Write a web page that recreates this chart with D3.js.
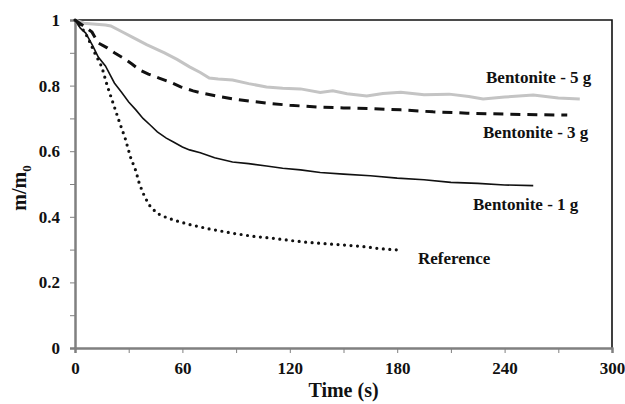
<!DOCTYPE html>
<html>
<head>
<meta charset="utf-8">
<script src="https://cdn.jsdelivr.net/npm/d3@7"></script>
<style>
  body { margin: 0; background: #fff; }
  svg text { font-family: "Liberation Serif", "Times New Roman", serif; font-weight: bold; fill: #111; }
</style>
</head>
<body>
<svg id="chart" width="625" height="404"></svg>
<script>
// data
var refTime = [0, 4, 7, 11, 15, 18, 22, 25, 28, 31, 34, 36, 39, 42, 46, 51, 57, 65, 75, 88, 100, 110, 120, 130, 140, 150, 160, 170, 180];
var refValue = [1, 0.975, 0.948, 0.9, 0.857, 0.8, 0.735, 0.686, 0.64, 0.582, 0.54, 0.5, 0.46, 0.432, 0.41, 0.398, 0.387, 0.375, 0.363, 0.35, 0.34, 0.335, 0.328, 0.322, 0.318, 0.314, 0.31, 0.303, 0.299];

var b1Time = [0, 3, 6, 10, 13, 17, 22, 26, 30, 34, 38, 42, 46, 51, 55, 60, 64, 70, 78, 88, 97, 107, 116, 126, 137, 150, 165, 180, 195, 210, 225, 240, 256];
var b1Value = [1, 0.975, 0.96, 0.92, 0.887, 0.86, 0.808, 0.78, 0.75, 0.726, 0.7, 0.68, 0.659, 0.64, 0.628, 0.613, 0.604, 0.595, 0.58, 0.567, 0.562, 0.555, 0.548, 0.543, 0.535, 0.53, 0.525, 0.518, 0.513, 0.505, 0.502, 0.497, 0.495];

var b3Time = [0, 4, 9.5, 13, 18, 22, 27, 32, 36, 41, 47, 53, 59, 66, 72, 81, 90, 100, 110, 120, 135, 150, 165, 182, 200, 219, 240, 260, 275];
var b3Value = [1, 0.985, 0.963, 0.93, 0.915, 0.9, 0.884, 0.865, 0.848, 0.835, 0.823, 0.811, 0.796, 0.784, 0.776, 0.766, 0.758, 0.751, 0.745, 0.74, 0.735, 0.732, 0.73, 0.726, 0.72, 0.716, 0.713, 0.711, 0.71];

var b5Time = [0, 5, 10, 17, 20, 26, 32, 40, 50, 57, 64, 70, 75, 80, 88, 97, 107, 116, 126, 137, 144, 152, 163, 172, 182, 195, 209, 220, 228, 240, 256, 270, 282];
var b5Value = [1, 0.99, 0.988, 0.985, 0.982, 0.965, 0.948, 0.925, 0.9, 0.88, 0.857, 0.84, 0.823, 0.82, 0.817, 0.806, 0.796, 0.792, 0.79, 0.779, 0.784, 0.775, 0.768, 0.776, 0.78, 0.772, 0.774, 0.767, 0.759, 0.765, 0.771, 0.762, 0.759];

var xTicks = [0, 60, 120, 180, 240, 300];
var xMinor = [30, 90, 150, 210, 270];
var yTicks = [0, 0.2, 0.4, 0.6, 0.8, 1];
var yTickLabels = ["0", "0.2", "0.4", "0.6", "0.8", "1"];
var yMinor = [0.1, 0.3, 0.5, 0.7, 0.9];

var seriesNames = ["Reference", "Bentonite - 1 g", "Bentonite - 3 g", "Bentonite - 5 g"];

var svg = d3.select("#chart");
var plotLeft = 75, plotRight = 612, plotTop = 20, plotBottom = 348;

var x = d3.scaleLinear().domain([0, 300]).range([plotLeft, plotRight]);
var y = d3.scaleLinear().domain([0, 1]).range([plotBottom, plotTop]);

function zip(t, v) {
  return t.map(function(d, i) { return [d, v[i]]; });
}

var line = d3.line()
  .x(function(d) { return x(d[0]); })
  .y(function(d) { return y(d[1]); });

// top and right frame
svg.append("path")
  .attr("d", "M" + plotLeft + "," + plotTop + "H" + plotRight + "V" + plotBottom)
  .attr("fill", "none")
  .attr("stroke", "#111")
  .attr("stroke-width", 1.6);

// axes
var yAxis = svg.append("g")
  .attr("transform", "translate(" + plotLeft + ",0)")
  .call(d3.axisLeft(y).tickValues(yTicks).tickSize(5).tickPadding(10)
    .tickFormat(function(d, i) { return yTickLabels[i]; }));
var yAxisMinor = svg.append("g")
  .attr("transform", "translate(" + plotLeft + ",0)")
  .call(d3.axisLeft(y).tickValues(yMinor).tickSize(5).tickFormat(""));
var xAxis = svg.append("g")
  .attr("transform", "translate(0," + plotBottom + ")")
  .call(d3.axisBottom(x).tickValues(xTicks).tickSize(5).tickPadding(9));
var xAxisMinor = svg.append("g")
  .attr("transform", "translate(0," + plotBottom + ")")
  .call(d3.axisBottom(x).tickValues(xMinor).tickSize(5).tickFormat(""));

[yAxis, yAxisMinor, xAxis, xAxisMinor].forEach(function(a) {
  a.selectAll(".domain").attr("stroke", "#808080").attr("stroke-width", 2);
  a.selectAll(".tick line").attr("stroke", "#808080").attr("stroke-width", 1);
  a.selectAll(".tick text").style("font-size", "17px").attr("fill", "#111")
    .style("font-family", "Liberation Serif, serif").style("font-weight", "bold");
});

// series
svg.append("path")
  .datum(zip(b5Time, b5Value))
  .attr("d", line)
  .attr("fill", "none")
  .attr("stroke", "#c4c4c4")
  .attr("stroke-width", 3);

svg.append("path")
  .datum(zip(b3Time, b3Value))
  .attr("d", line)
  .attr("fill", "none")
  .attr("stroke", "#111")
  .attr("stroke-width", 3)
  .attr("stroke-dasharray", "10,7");

svg.append("path")
  .datum(zip(b1Time, b1Value))
  .attr("d", line)
  .attr("fill", "none")
  .attr("stroke", "#111")
  .attr("stroke-width", 1.6);

svg.append("path")
  .datum(zip(refTime, refValue))
  .attr("d", line)
  .attr("fill", "none")
  .attr("stroke", "#111")
  .attr("stroke-width", 3.2)
  .attr("stroke-linecap", "round")
  .attr("stroke-dasharray", "0,6.5");

// series labels
var labelPos = [[418, 264], [473, 210], [483, 138], [486, 83]];
svg.selectAll(".series-label")
  .data(seriesNames)
  .enter().append("text")
  .attr("class", "series-label")
  .attr("x", function(d, i) { return labelPos[i][0]; })
  .attr("y", function(d, i) { return labelPos[i][1]; })
  .style("font-size", "17px")
  .text(function(d) { return d; });

// axis titles
svg.append("text")
  .attr("x", (plotLeft + plotRight) / 2)
  .attr("y", 397)
  .style("text-anchor", "middle")
  .style("font-size", "20px")
  .text("Time (s)");

var yt = svg.append("text")
  .attr("transform", "translate(26," + ((plotTop + plotBottom) / 2 + 4) + ") rotate(-90)")
  .style("text-anchor", "middle")
  .style("font-size", "20px");
yt.append("tspan").text("m/m");
yt.append("tspan").attr("dy", 5).style("font-size", "13px").text("0");
</script>
</body>
</html>
